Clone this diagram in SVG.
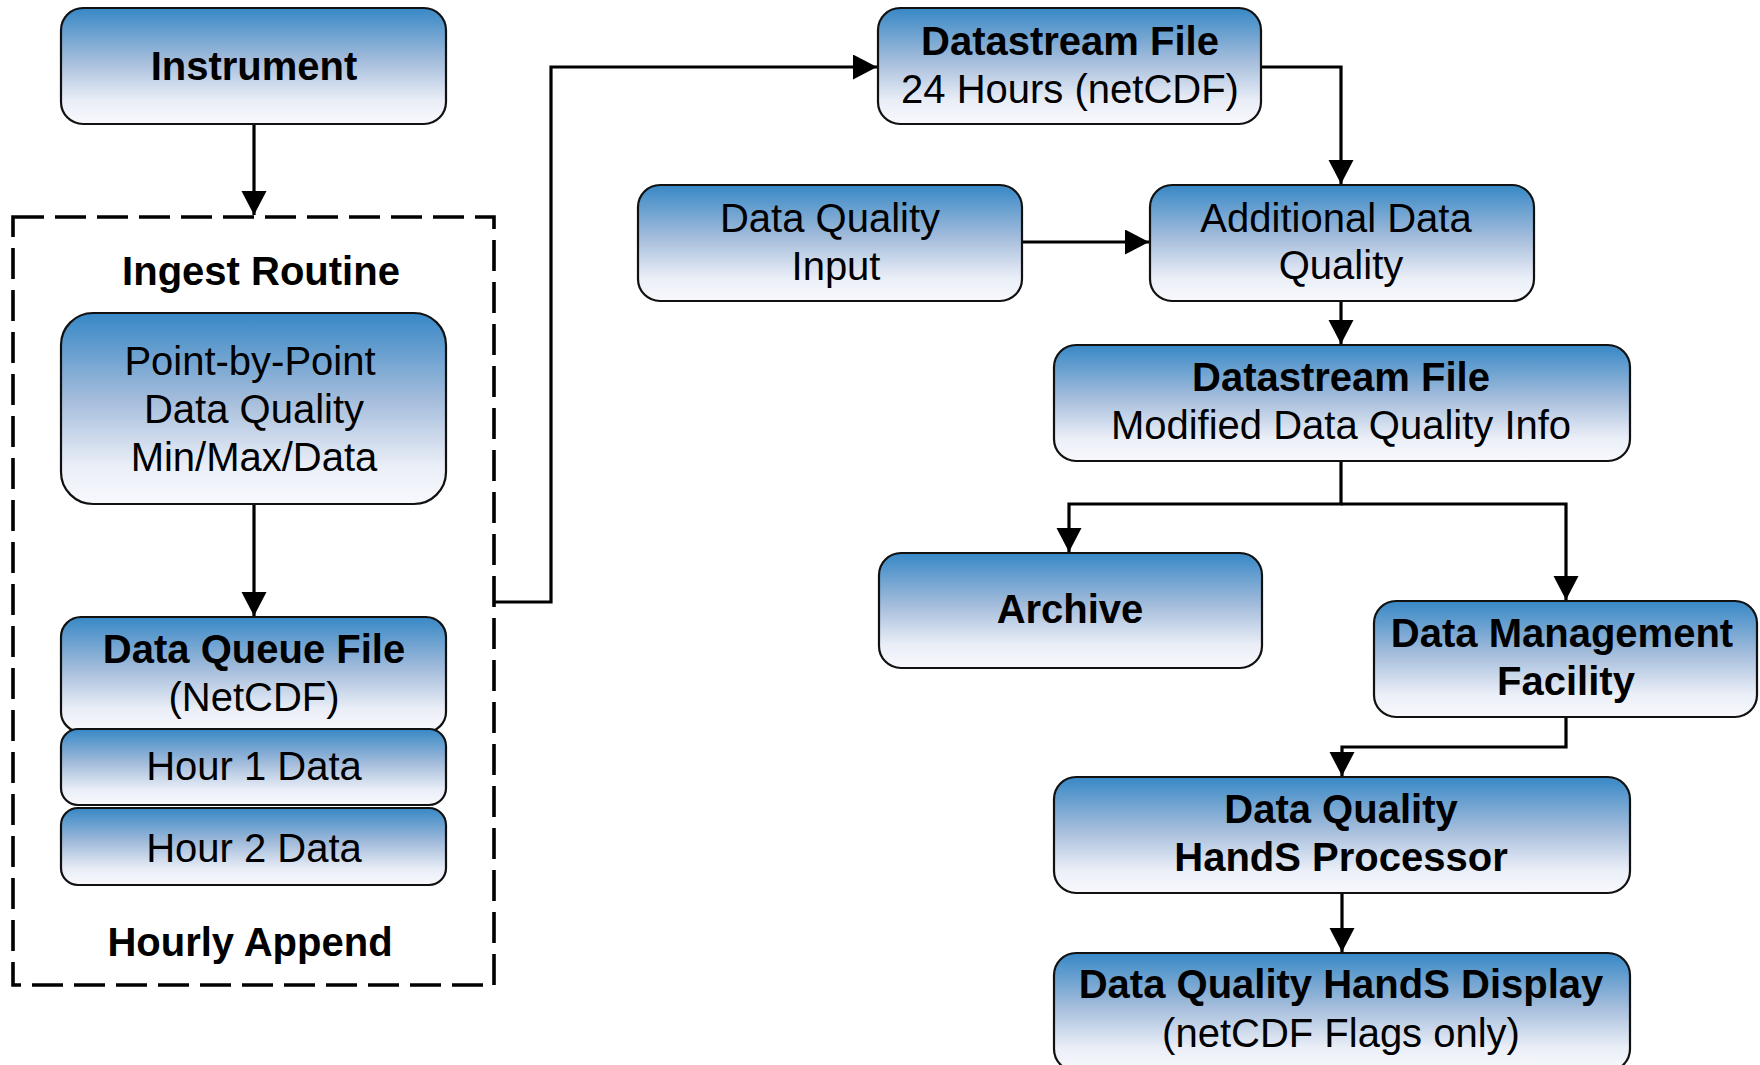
<svg xmlns="http://www.w3.org/2000/svg" width="1760" height="1065" viewBox="0 0 1760 1065">
<style>
.box{fill:url(#g);stroke:#111;stroke-width:2.2}
text{font-family:"Liberation Sans",Arial,sans-serif;font-size:40px;text-anchor:middle;fill:#000}
.b{font-weight:bold}
.c{fill:none;stroke:#000;stroke-width:3.2}
</style>
<defs>
<linearGradient id="g" x1="0" y1="0" x2="0" y2="1">
<stop offset="0" stop-color="#3788c6"/>
<stop offset="0.45" stop-color="#a3bcdb"/>
<stop offset="0.8" stop-color="#eaeef7"/>
<stop offset="1" stop-color="#f8f9fd"/>
</linearGradient>
<marker id="a" markerUnits="userSpaceOnUse" markerWidth="26" markerHeight="26" refX="24" refY="12.5" orient="auto">
<path d="M0,0 L24,12.5 L0,25 z" fill="#000"/>
</marker>
</defs>
<rect x="0" y="0" width="1760" height="1065" fill="#fff"/>

<g id="ingest-routine">
<rect x="13" y="217" width="481" height="768" fill="none" stroke="#000" stroke-width="3.6" stroke-dasharray="31 11"/>
<text class="b" x="261" y="285">Ingest Routine</text>
<text class="b" x="250" y="956">Hourly Append</text>
</g>

<g id="connectors">
<path class="c" d="M254,124 V215" marker-end="url(#a)"/>
<path class="c" d="M254,504 V616" marker-end="url(#a)"/>
<path class="c" d="M494,602 H551 V67 H877" marker-end="url(#a)"/>
<path class="c" d="M1261,67 H1341 V184" marker-end="url(#a)"/>
<path class="c" d="M1022,242 H1149" marker-end="url(#a)"/>
<path class="c" d="M1341,301 V344" marker-end="url(#a)"/>
<path class="c" d="M1341,461 V504 H1069 V552" marker-end="url(#a)"/>
<path class="c" d="M1341,504 H1566 V600" marker-end="url(#a)"/>
<path class="c" d="M1566,717 V747 H1342 V776" marker-end="url(#a)"/>
<path class="c" d="M1342,893 V952" marker-end="url(#a)"/>
</g>

<g id="instrument">
<rect class="box" x="61" y="8" width="385" height="116" rx="22"/>
<text class="b" x="254" y="80">Instrument</text>
</g>

<g id="point-by-point">
<rect class="box" x="61" y="313" width="385" height="191" rx="32"/>
<text x="250" y="375">Point-by-Point</text>
<text x="254" y="423">Data Quality</text>
<text x="254" y="471">Min/Max/Data</text>
</g>

<g id="data-queue-file">
<rect class="box" x="61" y="617" width="385" height="115" rx="20"/>
<text class="b" x="254" y="663">Data Queue File</text>
<text x="254" y="711">(NetCDF)</text>
</g>

<g id="hour1">
<rect class="box" x="61" y="729" width="385" height="76" rx="17"/>
<text x="254" y="780">Hour 1 Data</text>
</g>

<g id="hour2">
<rect class="box" x="61" y="808" width="385" height="77" rx="17"/>
<text x="254" y="862">Hour 2 Data</text>
</g>

<g id="datastream-file-24h">
<rect class="box" x="878" y="8" width="383" height="116" rx="22"/>
<text class="b" x="1070" y="55">Datastream File</text>
<text x="1070" y="103">24 Hours (netCDF)</text>
</g>

<g id="data-quality-input">
<rect class="box" x="638" y="185" width="384" height="116" rx="22"/>
<text x="830" y="232">Data Quality</text>
<text x="836" y="280">Input</text>
</g>

<g id="additional-data-quality">
<rect class="box" x="1150" y="185" width="384" height="116" rx="22"/>
<text x="1336" y="232">Additional Data</text>
<text x="1341" y="279">Quality</text>
</g>

<g id="datastream-file-modified">
<rect class="box" x="1054" y="345" width="576" height="116" rx="22"/>
<text class="b" x="1341" y="391">Datastream File</text>
<text x="1341" y="439">Modified Data Quality Info</text>
</g>

<g id="archive">
<rect class="box" x="879" y="553" width="383" height="115" rx="22"/>
<text class="b" x="1070" y="623">Archive</text>
</g>

<g id="data-management-facility">
<rect class="box" x="1374" y="601" width="383" height="116" rx="22"/>
<text class="b" x="1562" y="647">Data Management</text>
<text class="b" x="1566" y="695">Facility</text>
</g>

<g id="dq-hands-processor">
<rect class="box" x="1054" y="777" width="576" height="116" rx="22"/>
<text class="b" x="1341" y="823">Data Quality</text>
<text class="b" x="1341" y="871">HandS Processor</text>
</g>

<g id="dq-hands-display">
<rect class="box" x="1054" y="953" width="576" height="118" rx="22"/>
<text class="b" x="1341" y="998">Data Quality HandS Display</text>
<text x="1341" y="1047">(netCDF Flags only)</text>
</g>
</svg>
